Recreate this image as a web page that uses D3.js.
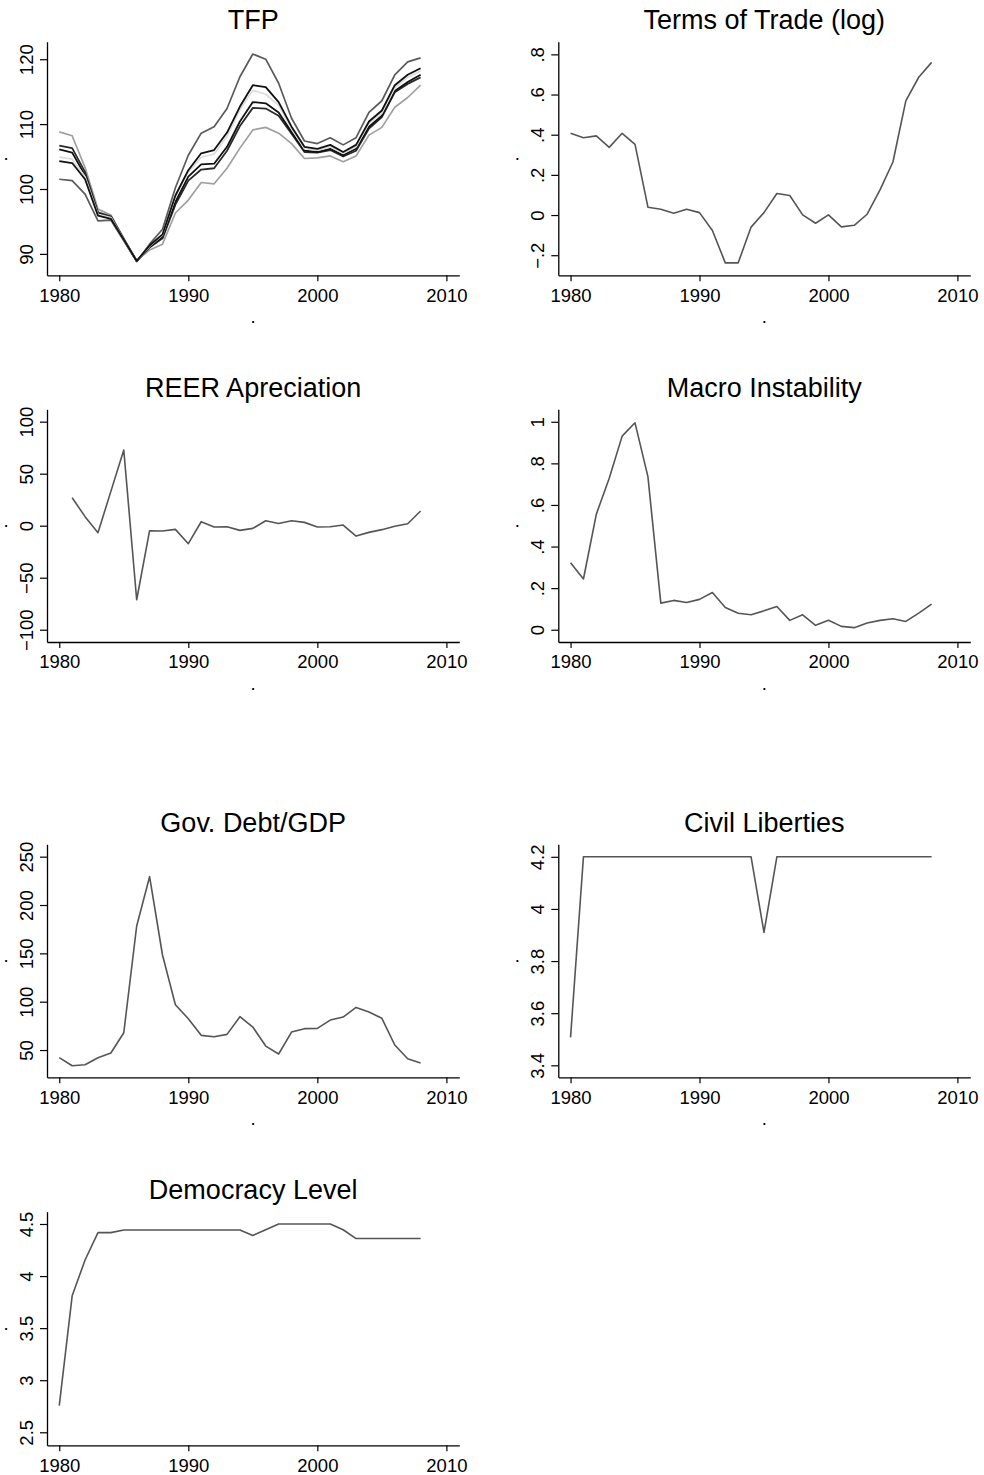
<!DOCTYPE html>
<html>
<head>
<meta charset="utf-8">
<script src="https://cdn.jsdelivr.net/npm/d3@7"></script>
<style>
  html, body { margin: 0; padding: 0; background: #fff; }
  svg { display: block; }
  text { font-family: "Liberation Sans", Arial, Helvetica, sans-serif; fill: #000; }
</style>
</head>
<body>
<svg id="chart" width="984" height="1475"></svg>
<script>
// ---------- data ----------
const years = [1980,1981,1982,1983,1984,1985,1986,1987,1988,1989,1990,1991,1992,1993,1994,1995,1996,1997,1998,1999,2000,2001,2002,2003,2004,2005,2006,2007,2008];
const xTicks = [1980,1990,2000,2010];

// TFP: six alternative measures
const tfpA = [101.5,101.3,99.2,95.1,95.2,92.0,88.8,91.5,93.8,100.2,105.2,108.6,109.6,112.4,117.3,120.8,120.0,116.3,110.9,107.4,107.0,107.9,106.8,107.9,111.8,113.6,117.6,119.6,120.2];
const tfpP = [104.3,104.0,101.5,95.9,95.4,92.2,88.9,91.3,93.0,99.0,102.9,105.5,106.0,108.7,112.7,116.0,115.7,113.4,109.6,106.5,106.2,106.8,105.7,106.8,110.4,112.1,116.0,117.6,118.6];
const tfpC = [104.9,104.6,101.9,96.1,95.6,92.2,88.9,91.2,92.9,98.8,102.6,104.9,105.4,108.1,112.2,115.2,114.6,112.9,109.3,106.2,106.0,106.5,105.5,106.5,110.1,111.7,115.6,117.2,118.2];
const tfpQ = [106.1,105.6,102.1,96.2,95.6,92.2,88.9,91.1,92.6,98.0,101.9,103.8,103.9,106.5,110.4,113.4,113.2,111.8,108.8,105.9,105.7,106.2,105.2,106.2,109.6,111.3,115.1,116.5,117.6];
const tfpR = [106.7,106.3,102.6,96.4,95.8,92.3,88.9,91.0,92.4,97.6,101.3,103.0,103.2,105.9,109.7,112.5,112.4,111.3,108.5,105.7,105.6,106.0,105.0,105.9,109.3,111.1,114.9,116.2,117.2];
const tfpF = [108.8,108.2,103.3,96.9,96.0,92.4,89.0,90.6,91.5,96.3,98.3,101.0,100.8,103.2,106.3,109.1,109.5,108.6,107.0,104.7,104.8,105.1,104.2,105.1,108.3,109.5,112.6,114.1,116.0];
const tfpTicks = [90,100,110,120];

const tot = [0.407,0.385,0.394,0.337,0.407,0.352,0.039,0.029,0.009,0.029,0.012,-0.077,-0.238,-0.238,-0.060,0.012,0.107,0.097,0.001,-0.041,0.001,-0.059,-0.051,0.004,0.125,0.264,0.568,0.686,0.760];
const totTicks = [-0.2,0,0.2,0.4,0.6,0.8];
const totTickLabels = ["\u2212.2","0",".2",".4",".6",".8"];

const reer = [null,26.9,8.7,-6.7,33.0,72.8,-71.2,-4.8,-5.1,-3.5,-17.3,3.8,-1.3,-1.0,-4.5,-2.6,4.8,2.2,4.8,3.2,-1.3,-1.0,0.6,-10.0,-6.4,-3.8,-0.6,1.9,14.1];
const reerTicks = [-100,-50,0,50,100];
const reerTickLabels = ["\u2212100","\u221250","0","50","100"];

const macro = [0.322,0.244,0.556,0.728,0.931,0.995,0.736,0.128,0.141,0.131,0.146,0.179,0.107,0.079,0.072,0.091,0.112,0.045,0.072,0.021,0.046,0.016,0.010,0.032,0.045,0.053,0.040,0.080,0.123];
const macroTicks = [0,0.2,0.4,0.6,0.8,1];
const macroTickLabels = ["0",".2",".4",".6",".8","1"];

const debt = [42.1,33.8,34.8,42.1,46.9,67.9,178.3,229.3,148.3,96.9,82.4,65.2,63.8,66.2,84.5,73.8,54.1,45.9,68.6,72.1,72.4,81.0,84.1,94.1,89.3,82.8,55.2,41.0,36.6];
const debtTicks = [50,100,150,200,250];

const civil = [3.507,4.2,4.2,4.2,4.2,4.2,4.2,4.2,4.2,4.2,4.2,4.2,4.2,4.2,4.2,3.91,4.2,4.2,4.2,4.2,4.2,4.2,4.2,4.2,4.2,4.2,4.2,4.2,4.2];
const civilTicks = [3.4,3.6,3.8,4,4.2];
const civilTickLabels = ["3.4","3.6","3.8","4","4.2"];

const democ = [2.756,3.81,4.154,4.417,4.417,4.442,4.442,4.442,4.442,4.442,4.442,4.442,4.442,4.442,4.442,4.39,4.445,4.5,4.5,4.5,4.5,4.5,4.445,4.36,4.36,4.36,4.36,4.36,4.36];
const democTicks = [2.5,3,3.5,4,4.5];
const democTickLabels = ["2.5","3","3.5","4","4.5"];

// ---------- layout ----------
const svg = d3.select("#chart");
const W = 984, H = 1475;
const cols = [{x0: 47, x1: 459.3}, {x0: 558.3, x1: 970.3}];
const rows = [{top: 41.7, bottom: 275.3, title: 29.3},
              {top: 409.3, bottom: 642, title: 396.7},
              {top: 844.3, bottom: 1077.3, title: 831.7},
              {top: 1211.7, bottom: 1445.3, title: 1199.3}];
const xDomain = [1979.05, 2011.0];
const tickFont = 18.5;
const lineGray = "#555";

function panel(col, row, title, yDomain, yTicks, yLabels, series) {
  const c = cols[col], r = rows[row];
  const x = d3.scaleLinear().domain(xDomain).range([c.x0, c.x1]);
  const y = d3.scaleLinear().domain(yDomain).range([r.bottom, r.top]);
  const g = svg.append("g");

  // title
  g.append("text").attr("x", (c.x0 + c.x1) / 2).attr("y", r.title)
    .attr("text-anchor", "middle").style("font-size", "27px").text(title);

  // x axis
  const xa = g.append("g").attr("transform", `translate(0,${r.bottom})`)
    .call(d3.axisBottom(x).tickValues(xTicks).tickFormat(d3.format("d")).tickSize(6).tickSizeOuter(0));
  xa.select(".domain").attr("stroke", "#000").attr("stroke-width", 1.3);
  xa.selectAll(".tick line").attr("stroke", "#000").attr("stroke-width", 1.2);
  xa.selectAll(".tick text").attr("y", 0).attr("dy", 26.4).style("font-size", tickFont + "px");

  // y axis
  const ya = g.append("g").attr("transform", `translate(${c.x0},0)`)
    .call(d3.axisLeft(y).tickValues(yTicks)
      .tickFormat((d, i) => yLabels ? yLabels[i] : d3.format("d")(d))
      .tickSize(7).tickSizeOuter(0));
  ya.select(".domain").attr("stroke", "#000").attr("stroke-width", 1.3);
  ya.selectAll(".tick line").attr("stroke", "#000").attr("stroke-width", 1.2);
  ya.selectAll(".tick text").attr("x", null).attr("dy", null)
    .attr("text-anchor", "middle")
    .attr("transform", "translate(-14,0) rotate(-90)")
    .style("font-size", tickFont + "px");
  g.selectAll(".tick text").attr("fill", "#000");
  g.selectAll("g").attr("font-family", null).attr("font-size", null);

  // axis titles (just dots); the bottom one falls off the page in the last row
  g.append("text").attr("x", c.x0 - 41).attr("y", (r.top + r.bottom) / 2 + 1)
    .attr("text-anchor", "middle").style("font-size", tickFont + "px").text(".");
  if (r.bottom + 52 < H) {
    g.append("text").attr("x", (c.x0 + c.x1) / 2).attr("y", r.bottom + 48)
      .attr("text-anchor", "middle").style("font-size", tickFont + "px").text(".");
  }

  // lines
  const line = d3.line().defined(d => d[1] !== null).x(d => x(d[0])).y(d => y(d[1]));
  series.forEach(s => {
    g.append("path").datum(years.map((yr, i) => [yr, s.values[i]]))
      .attr("d", line).attr("fill", "none")
      .attr("stroke", s.color).attr("stroke-width", s.width || 1.6)
      .attr("stroke-linejoin", "round");
  });
}

panel(0, 0, "TFP", [86.7, 122.7], tfpTicks, null, [
  {values: tfpF, color: "#a0a0a0", width: 1.7},
  {values: tfpA, color: "#5a5a5a", width: 1.7},
  {values: tfpR, color: "#2a2a2a", width: 1.8},
  {values: tfpQ, color: "#111", width: 1.8},
  {values: tfpC, color: "#dcdcdc", width: 1.7},
  {values: tfpP, color: "#111", width: 1.8}
]);
panel(1, 0, "Terms of Trade (log)", [-0.3, 0.863], totTicks, totTickLabels, [{values: tot, color: lineGray}]);
panel(0, 1, "REER Apreciation", [-111.8, 111.9], reerTicks, reerTickLabels, [{values: reer, color: lineGray}]);
panel(1, 1, "Macro Instability", [-0.059, 1.06], macroTicks, macroTickLabels, [{values: macro, color: lineGray}]);
panel(0, 2, "Gov. Debt/GDP", [21.8, 262.8], debtTicks, null, [{values: debt, color: lineGray}]);
panel(1, 2, "Civil Liberties", [3.354, 4.248], civilTicks, civilTickLabels, [{values: civil, color: lineGray}]);
panel(0, 3, "Democracy Level", [2.375, 4.618], democTicks, democTickLabels, [{values: democ, color: lineGray}]);
</script>
</body>
</html>
